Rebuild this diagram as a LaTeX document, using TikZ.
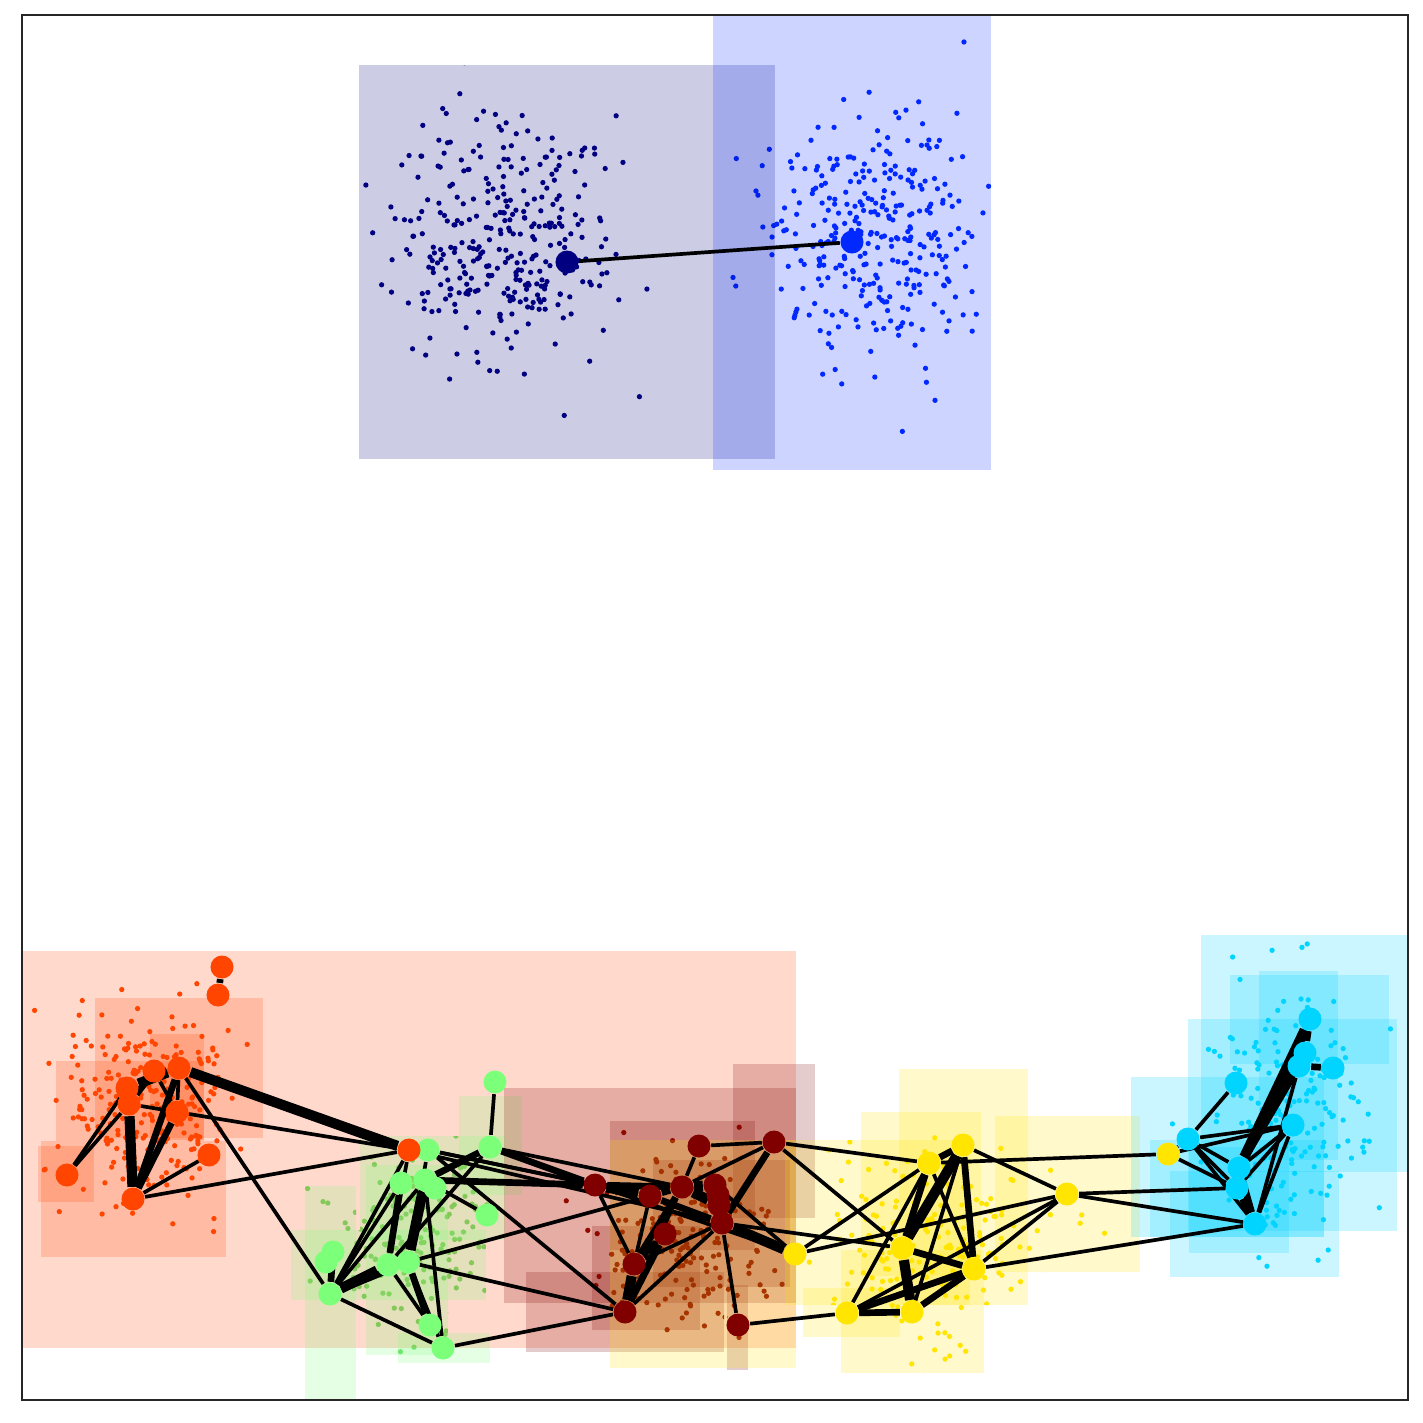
\documentclass[tikz,border=0pt]{standalone}
\usepackage{tikz}
\usetikzlibrary{positioning}

\definecolor{jnavy}{RGB}{0,0,128}
\definecolor{jblue}{RGB}{0,40,255}
\definecolor{jcyan}{RGB}{0,212,255}
\definecolor{jgreen}{RGB}{124,255,121}
\definecolor{jyellow}{RGB}{255,229,0}
\definecolor{jorange}{RGB}{255,69,0}
\definecolor{jmaroon}{RGB}{128,0,0}
\definecolor{frame}{RGB}{38,38,38}

\pgfdeclarelayer{under}
\pgfdeclarelayer{links}
\pgfsetlayers{under,links,main}

% scattered points round a centre, gaussian (Box-Muller)
\newcommand\dotcloud[6]{%
  \foreach \k in {1,...,#2}{%
    \pgfmathsetmacro\rr{sqrt(-2*ln(0.001+0.999*rnd))}%
    \pgfmathsetmacro\aa{360*rnd}%
    \pgfmathsetmacro\px{#3+#5*\rr*cos(\aa)}%
    \pgfmathsetmacro\py{#4+#6*\rr*sin(\aa)}%
    \fill[#1] (\px,\py) circle[radius=0.75pt];
  }}

\begin{document}
\begin{tikzpicture}[x=0.01cm, y=-0.01cm,
  vx/.style={circle, inner sep=0pt, minimum size=0.23cm},
  box/.style={fill opacity=0.2},
  lk/.style={line width=1.05pt},
  lkw/.style={line width=1.9pt},
  lkx/.style={line width=2.9pt}]
\useasboundingbox (0,0) rectangle (1423,1423);
\pgfmathsetseed{7}

\begin{pgfonlayer}{under}
\fill[white] (0,0) rectangle (1423,1423);
\begin{scope}
\clip (22,15) rectangle (1408,1400);

% point clouds, each kept inside its boxes
\begin{scope}
\clip (359,65) rectangle (775,459);
\dotcloud{jnavy}{330}{498}{240}{56}{58}
\end{scope}
\begin{scope}
\clip (713,15) rectangle (991,470);
\dotcloud{jblue}{330}{878}{238}{56}{62}
\end{scope}
\begin{scope}
\clip (22,951) rectangle (796,1348);
\dotcloud{jorange}{260}{150}{1110}{42}{50}
\end{scope}
\begin{scope}
\clip (305,1186) rectangle (356,1400) (291,1230) rectangle (486,1300)
  (366,1165) rectangle (448,1355) (360,1136) rectangle (505,1240)
  (459,1096) rectangle (522,1195) (398,1333) rectangle (490,1363);
\dotcloud{jgreen!85!black}{180}{415}{1235}{42}{50}
\end{scope}
\begin{scope}
\clip (504,1088) rectangle (796,1303) (733,1064) rectangle (815,1218)
  (526,1272) rectangle (724,1352) (727,1285) rectangle (748,1370);
\dotcloud{jmaroon}{200}{680}{1240}{45}{45}
\end{scope}
\begin{scope}
\clip (610,1140) rectangle (796,1368) (899,1069) rectangle (1028,1305)
  (861,1112) rectangle (981,1276) (995,1116) rectangle (1140,1272)
  (841,1250) rectangle (984,1373) (785,1140) rectangle (970,1305);
\dotcloud{jyellow}{200}{935}{1240}{50}{50}
\end{scope}
\begin{scope}
\clip (1201,935) rectangle (1408,1172) (1188,1019) rectangle (1397,1231)
  (1131,1077) rectangle (1324,1237) (1170,1171) rectangle (1339,1277);
\dotcloud{jcyan}{200}{1285}{1110}{38}{60}
\end{scope}

% top boxes
\fill[box, fill=jnavy] (359,65) rectangle (775,459);
\fill[box, fill=jblue] (713,15) rectangle (991,470);

% orange boxes
\fill[box, fill=jorange] (22,951) rectangle (796,1348);
\fill[box, fill=jorange] (95,998) rectangle (263,1138);
\fill[box, fill=jorange] (150,1034) rectangle (204,1140);
\fill[box, fill=jorange] (56,1061) rectangle (204,1141);
\fill[box, fill=jorange] (41,1141) rectangle (226,1257);
\fill[box, fill=jorange] (38,1146) rectangle (94,1202);

% green boxes
\fill[box, fill=jgreen] (305,1186) rectangle (356,1400);
\fill[box, fill=jgreen] (291,1230) rectangle (486,1300);
\fill[box, fill=jgreen] (366,1165) rectangle (448,1355);
\fill[box, fill=jgreen] (360,1136) rectangle (505,1240);
\fill[box, fill=jgreen] (459,1096) rectangle (522,1195);
\fill[box, fill=jgreen] (398,1333) rectangle (490,1363);

% maroon boxes
\fill[box, fill=jmaroon] (504,1088) rectangle (796,1303);
\fill[box, fill=jmaroon] (733,1064) rectangle (815,1218);
\fill[box, fill=jmaroon] (610,1121) rectangle (755,1250);
\fill[box, fill=jmaroon] (526,1272) rectangle (724,1352);
\fill[box, fill=jmaroon] (592,1226) rectangle (700,1330);
\fill[box, fill=jmaroon] (653,1160) rectangle (790,1287);
\fill[box, fill=jmaroon] (727,1285) rectangle (748,1370);

% yellow boxes
\fill[box, fill=jyellow] (610,1140) rectangle (796,1368);
\fill[box, fill=jyellow] (899,1069) rectangle (1028,1305);
\fill[box, fill=jyellow] (861,1112) rectangle (981,1276);
\fill[box, fill=jyellow] (995,1116) rectangle (1140,1272);
\fill[box, fill=jyellow] (841,1250) rectangle (984,1373);
\fill[box, fill=jyellow] (803,1288) rectangle (900,1337);
\fill[box, fill=jyellow] (785,1140) rectangle (970,1305);

% cyan boxes
\fill[box, fill=jcyan] (1201,935) rectangle (1408,1172);
\fill[box, fill=jcyan] (1230,975) rectangle (1389,1064);
\fill[box, fill=jcyan] (1259,971) rectangle (1338,1160);
\fill[box, fill=jcyan] (1188,1019) rectangle (1397,1231);
\fill[box, fill=jcyan] (1131,1077) rectangle (1324,1237);
\fill[box, fill=jcyan] (1150,1140) rectangle (1324,1237);
\fill[box, fill=jcyan] (1170,1171) rectangle (1339,1277);
\fill[box, fill=jcyan] (1189,1147) rectangle (1289,1253);
\end{scope}
\end{pgfonlayer}

\node[vx, fill=jnavy] (n1) at (567,262) {};
\node[vx, fill=jblue] (n2) at (852,242) {};

\node[vx, fill=jorange] (oA) at (222,967) {};
\node[vx, fill=jorange] (oB) at (218,995) {};
\node[vx, fill=jorange] (oC) at (154,1071) {};
\node[vx, fill=jorange] (oD) at (179,1068) {};
\node[vx, fill=jorange] (oE) at (127,1088) {};
\node[vx, fill=jorange] (oF) at (129,1104) {};
\node[vx, fill=jorange] (oG) at (177,1112) {};
\node[vx, fill=jorange] (oH) at (209,1155) {};
\node[vx, fill=jorange] (oI) at (67,1175) {};
\node[vx, fill=jorange] (oJ) at (133,1199) {};

\node[vx, fill=jgreen] (gA) at (495,1082) {};
\node[vx, fill=jgreen] (gB) at (428,1150) {};
\node[vx, fill=jorange] (oK) at (409,1150) {};
\node[vx, fill=jgreen] (gC) at (490,1147) {};
\node[vx, fill=jgreen] (gD) at (401,1183) {};
\node[vx, fill=jgreen] (gE) at (425,1180) {};
\node[vx, fill=jgreen] (gF) at (435,1188) {};
\node[vx, fill=jgreen] (gG) at (487,1215) {};
\node[vx, fill=jgreen] (gH) at (333,1252) {};
\node[vx, fill=jgreen] (gI) at (326,1262) {};
\node[vx, fill=jgreen] (gJ) at (388,1265) {};
\node[vx, fill=jgreen] (gK) at (408,1262) {};
\node[vx, fill=jgreen] (gL) at (330,1294) {};
\node[vx, fill=jgreen] (gM) at (430,1325) {};
\node[vx, fill=jgreen] (gN) at (443,1348) {};

\node[vx, fill=jmaroon] (mA) at (595,1185) {};
\node[vx, fill=jmaroon] (mB) at (650,1196) {};
\node[vx, fill=jmaroon] (mC) at (682,1187) {};
\node[vx, fill=jmaroon] (mD) at (699,1146) {};
\node[vx, fill=jmaroon] (mE) at (774,1142) {};
\node[vx, fill=jmaroon] (mF) at (715,1185) {};
\node[vx, fill=jmaroon] (mG) at (718,1195) {};
\node[vx, fill=jmaroon] (mH) at (719,1205) {};
\node[vx, fill=jmaroon] (mI) at (722,1223) {};
\node[vx, fill=jmaroon] (mJ) at (665,1234) {};
\node[vx, fill=jmaroon] (mK) at (634,1264) {};
\node[vx, fill=jmaroon] (mL) at (625,1312) {};
\node[vx, fill=jmaroon] (mM) at (738,1325) {};

\node[vx, fill=jyellow] (yA) at (795,1254) {};
\node[vx, fill=jyellow] (yB) at (929,1163) {};
\node[vx, fill=jyellow] (yC) at (963,1145) {};
\node[vx, fill=jyellow] (yD) at (902,1248) {};
\node[vx, fill=jyellow] (yE) at (974,1269) {};
\node[vx, fill=jyellow] (yF) at (847,1313) {};
\node[vx, fill=jyellow] (yG) at (912,1312) {};
\node[vx, fill=jyellow] (yI) at (1067,1194) {};
\node[vx, fill=jyellow] (yJ) at (1168,1154) {};

\node[vx, fill=jcyan] (cA) at (1188,1139) {};
\node[vx, fill=jcyan] (cB) at (1236,1083) {};
\node[vx, fill=jcyan] (cC) at (1310,1019) {};
\node[vx, fill=jcyan] (cD) at (1305,1053) {};
\node[vx, fill=jcyan] (cE) at (1299,1066) {};
\node[vx, fill=jcyan] (cF) at (1333,1068) {};
\node[vx, fill=jcyan] (cG) at (1293,1125) {};
\node[vx, fill=jcyan] (cH) at (1239,1168) {};
\node[vx, fill=jcyan] (cI) at (1237,1188) {};
\node[vx, fill=jcyan] (cK) at (1255,1224) {};

\begin{pgfonlayer}{links}
\draw[lk] (n1) -- (n2);

\draw[lkw] (oA) -- (oB);
\draw[lkx] (oE) -- (oD);
\draw[lkw] (oF) -- (oC);
\draw[lkw] (oD) -- (oJ);
\draw[lkx] (oF) -- (oJ);
\draw[lkw] (oG) -- (oJ);
\draw[lk] (oD) -- (oG);
\draw[lk] (oC) -- (oG);
\draw[lk] (oI) -- (oE);
\draw[lk] (oI) -- (oF);
\draw[lk] (oH) -- (oJ);
\draw[lk] (oF) -- (oG);
\draw[lk] (oJ) -- (oK);
\draw[lkx] (oD) -- (oK);
\draw[lk] (oG) -- (oK);
\draw[lk] (oD) -- (gL);

\draw[lk] (gA) -- (gC);
\draw[lkw] (gC) -- (gE);
\draw[lk] (gC) -- (gJ);
\draw[lk] (oK) -- (gL);
\draw[lk] (oK) -- (gJ);
\draw[lkx] (gE) -- (gK);
\draw[lkw] (gD) -- (gJ);
\draw[lk] (gB) -- (gK);
\draw[lk] (gL) -- (gD);
\draw[lk] (gL) -- (gE);
\draw[lkx] (gL) -- (gJ);
\draw[lkw] (gL) -- (gK);
\draw[lkw] (gL) -- (gH);
\draw[lk] (gL) -- (gN);
\draw[lk] (gJ) -- (gM);
\draw[lkw] (gK) -- (gM);
\draw[lk] (gK) -- (gN);
\draw[lk] (gE) -- (gN);
\draw[lk] (gE) -- (gG);
\draw[lk] (gK) -- (mB);
\draw[lk] (gK) -- (mL);
\draw[lk] (gN) -- (mL);
\draw[lk] (gB) -- (mL);
\draw[lkw] (gC) -- (mA);
\draw[lk] (gC) -- (mC);
\draw[lk] (gB) -- (mA);
\draw[lkw] (gE) -- (mA);
\draw[lk] (gB) -- (mB);
\draw[lk] (gE) -- (mC);
\draw[lk] (oK) -- (mI);

\draw[lkx] (mA) -- (mB);
\draw[lkw] (mA) -- (mC);
\draw[lkw] (mB) -- (mC);
\draw[lkx] (mC) -- (mF);
\draw[lkx] (mC) -- (mH);
\draw[lkw] (mB) -- (mI);
\draw[lk] (mD) -- (mE);
\draw[lk] (mD) -- (mC);
\draw[lk] (mE) -- (mC);
\draw[lkw] (mE) -- (mI);
\draw[lk] (mA) -- (mK);
\draw[lk] (mB) -- (mK);
\draw[lkw] (mC) -- (mK);
\draw[lkw] (mJ) -- (mK);
\draw[lkx] (mK) -- (mL);
\draw[lkw] (mJ) -- (mL);
\draw[lk] (mI) -- (mL);
\draw[lk] (mI) -- (mK);
\draw[lk] (mI) -- (mM);
\draw[lk] (mC) -- (mL);
\draw[lkx] (mI) -- (yA);
\draw[lk] (mF) -- (yA);
\draw[lk] (mA) -- (yA);
\draw[lk] (mE) -- (yB);
\draw[lk] (mE) -- (yD);
\draw[lk] (mI) -- (yD);
\draw[lk] (mM) -- (yF);

\draw[lk] (yA) -- (yB);
\draw[lk] (yA) -- (yI);
\draw[lkw] (yB) -- (yC);
\draw[lkw] (yB) -- (yD);
\draw[lk] (yB) -- (yF);
\draw[lk] (yB) -- (yE);
\draw[lk] (yB) -- (yJ);
\draw[lkx] (yC) -- (yD);
\draw[lkw] (yC) -- (yE);
\draw[lk] (yC) -- (yG);
\draw[lk] (yC) -- (yI);
\draw[lkw] (yD) -- (yE);
\draw[lkx] (yD) -- (yG);
\draw[lkw] (yF) -- (yG);
\draw[lkw] (yF) -- (yE);
\draw[lk] (yF) -- (yI);
\draw[lkw] (yG) -- (yE);
\draw[lk] (yE) -- (yI);
\draw[lk] (yE) -- (cK);
\draw[lk] (yI) -- (cI);
\draw[lk] (yI) -- (cK);

\draw[lk] (yJ) -- (cA);
\draw[lk] (yJ) -- (cG);
\draw[lk] (yJ) -- (cI);
\draw[lk] (cA) -- (cB);
\draw[lk] (cA) -- (cG);
\draw[lk] (cA) -- (cH);
\draw[lk] (cA) -- (cI);
\draw[lk] (cA) -- (cK);
\draw[lkx] (cH) -- (cC);
\draw[lkw] (cH) -- (cD);
\draw[lkw] (cH) -- (cE);
\draw[lk] (cH) -- (cG);
\draw[lk] (cI) -- (cG);
\draw[lk] (cK) -- (cG);
\draw[lk] (cK) -- (cE);
\draw[lkw] (cK) -- (cH);
\draw[lkw] (cE) -- (cF);
\draw[lkw] (cC) -- (cD);
\draw[lkw] (cD) -- (cE);
\draw[lkw] (cI) -- (cK);
\end{pgfonlayer}

\draw[frame, line width=0.5pt] (22,15) rectangle (1408,1400);
\end{tikzpicture}
\end{document}
